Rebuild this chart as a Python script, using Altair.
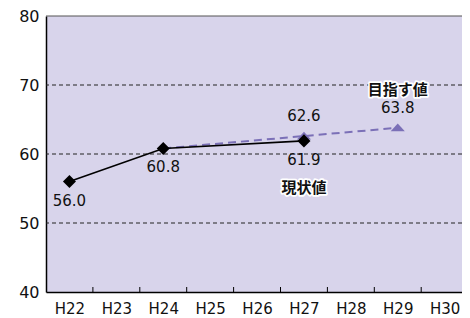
import altair as alt
import pandas as pd

categories = ["H22", "H23", "H24", "H25", "H26", "H27", "H28", "H29", "H30"]

actual_years = ["H22", "H24", "H27"]
actual_values = [56.0, 60.8, 61.9]
actual_labels = ["56.0", "60.8", "61.9"]

target_years = ["H24", "H27", "H29"]
target_values = [60.8, 62.6, 63.8]
target_labels = ["", "62.6", "63.8"]

y_ticks = [40, 50, 60, 70, 80]
grid_values = [50, 60, 70]
top_value = [80]

idx = {c: i for i, c in enumerate(categories)}

actual = pd.DataFrame({"i": [idx[c] for c in actual_years], "v": actual_values, "t": actual_labels})
target = pd.DataFrame({"i": [idx[c] for c in target_years], "v": target_values, "t": target_labels})
bounds = pd.DataFrame({"i": [i + 0.5 for i in range(len(categories) - 1)]})
grid = pd.DataFrame({"v": grid_values})
top = pd.DataFrame({"v": top_value})

BAND = 46.9
W = 416
x_max = -0.5 + W / BAND
label_arr = "[" + ",".join("'%s'" % c for c in categories) + "]"

xs = alt.Scale(domain=[-0.5, x_max], nice=False, zero=False)
ys = alt.Scale(domain=[40, 80], nice=False, zero=False)

x_axis = alt.Axis(
    values=list(range(len(categories))), labelExpr=label_arr + "[datum.value]",
    title=None, grid=False, ticks=False, domain=True, domainColor="#000", domainWidth=1.5,
    labelFont="DejaVu Sans", labelFontSize=15, labelColor="#111", labelPadding=9,
    labelOverlap=False, labelFlush=False)
y_axis = alt.Axis(
    values=y_ticks, title=None, grid=False, ticks=False, domain=True, domainColor="#000",
    domainWidth=1.5, labelFont="DejaVu Sans", labelFontSize=16, labelColor="#111",
    labelPadding=7)

X = alt.X("i:Q", scale=xs, axis=x_axis)
Y = alt.Y("v:Q", scale=ys, axis=y_axis)

purple = "#7b70b7"

gridlines = alt.Chart(grid).mark_rule(color="#222", strokeDash=[4, 3], strokeWidth=1.1).encode(y=Y)
topline = alt.Chart(top).mark_rule(color="#555", strokeWidth=1.2).encode(y=Y)

ticks = alt.Chart(bounds).mark_rule(color="#000", strokeWidth=1).encode(
    x=X, y=alt.value(276), y2=alt.value(271))

base_t = alt.Chart(target)
t_line = base_t.mark_line(color=purple, strokeWidth=2, strokeDash=[8, 5]).encode(x=X, y=Y)
t_pts = base_t.transform_filter("datum.t != ''").mark_point(
    shape="M-1,0.5L1,0.5L0,-0.62Z", filled=True, color=purple, opacity=1, size=200).encode(x=X, y=Y)
t_txt = base_t.mark_text(dy=-20, font="DejaVu Sans", fontSize=15, color="#111").encode(
    x=X, y=Y, text="t:N")

base_a = alt.Chart(actual)
a_line = base_a.mark_line(color="#000", strokeWidth=1.6).encode(x=X, y=Y)
a_pts = base_a.mark_point(shape="diamond", filled=True, color="#000", opacity=1, size=170).encode(x=X, y=Y)
a_txt = base_a.mark_text(dy=19, font="DejaVu Sans", fontSize=15, color="#111").encode(
    x=X, y=Y, text="t:N")

names = pd.DataFrame({"i": [idx["H27"], idx["H29"]], "v": [61.9, 63.8],
                      "t": ["現状値", "目指す値"], "d": [47, -38]})
def name_layer(row, halo):
    props = dict(font="Noto Sans CJK JP", fontSize=15, fontWeight="bold", dy=int(row["d"]))
    if halo:
        props.update(stroke="white", strokeWidth=3.5, strokeJoin="round", color="white")
    else:
        props.update(color="#111")
    return alt.Chart(names[names["t"] == row["t"]]).mark_text(**props).encode(x=X, y=Y, text="t:N")

name_layers = []
for _, r in names.iterrows():
    name_layers.append(name_layer(r, True))
    name_layers.append(name_layer(r, False))

chart = alt.layer(
    gridlines, topline, ticks, t_line, t_pts, a_line, a_pts, t_txt, a_txt, *name_layers
).properties(
    width=W, height=276,
    autosize=alt.AutoSizeParams(type="none"),
    padding={"left": 38, "top": 8, "right": 0, "bottom": 24},
).configure_view(
    fill="#d8d4eb", strokeWidth=0
)

chart.save("out.html", embed_options={"renderer": "svg", "actions": False})
